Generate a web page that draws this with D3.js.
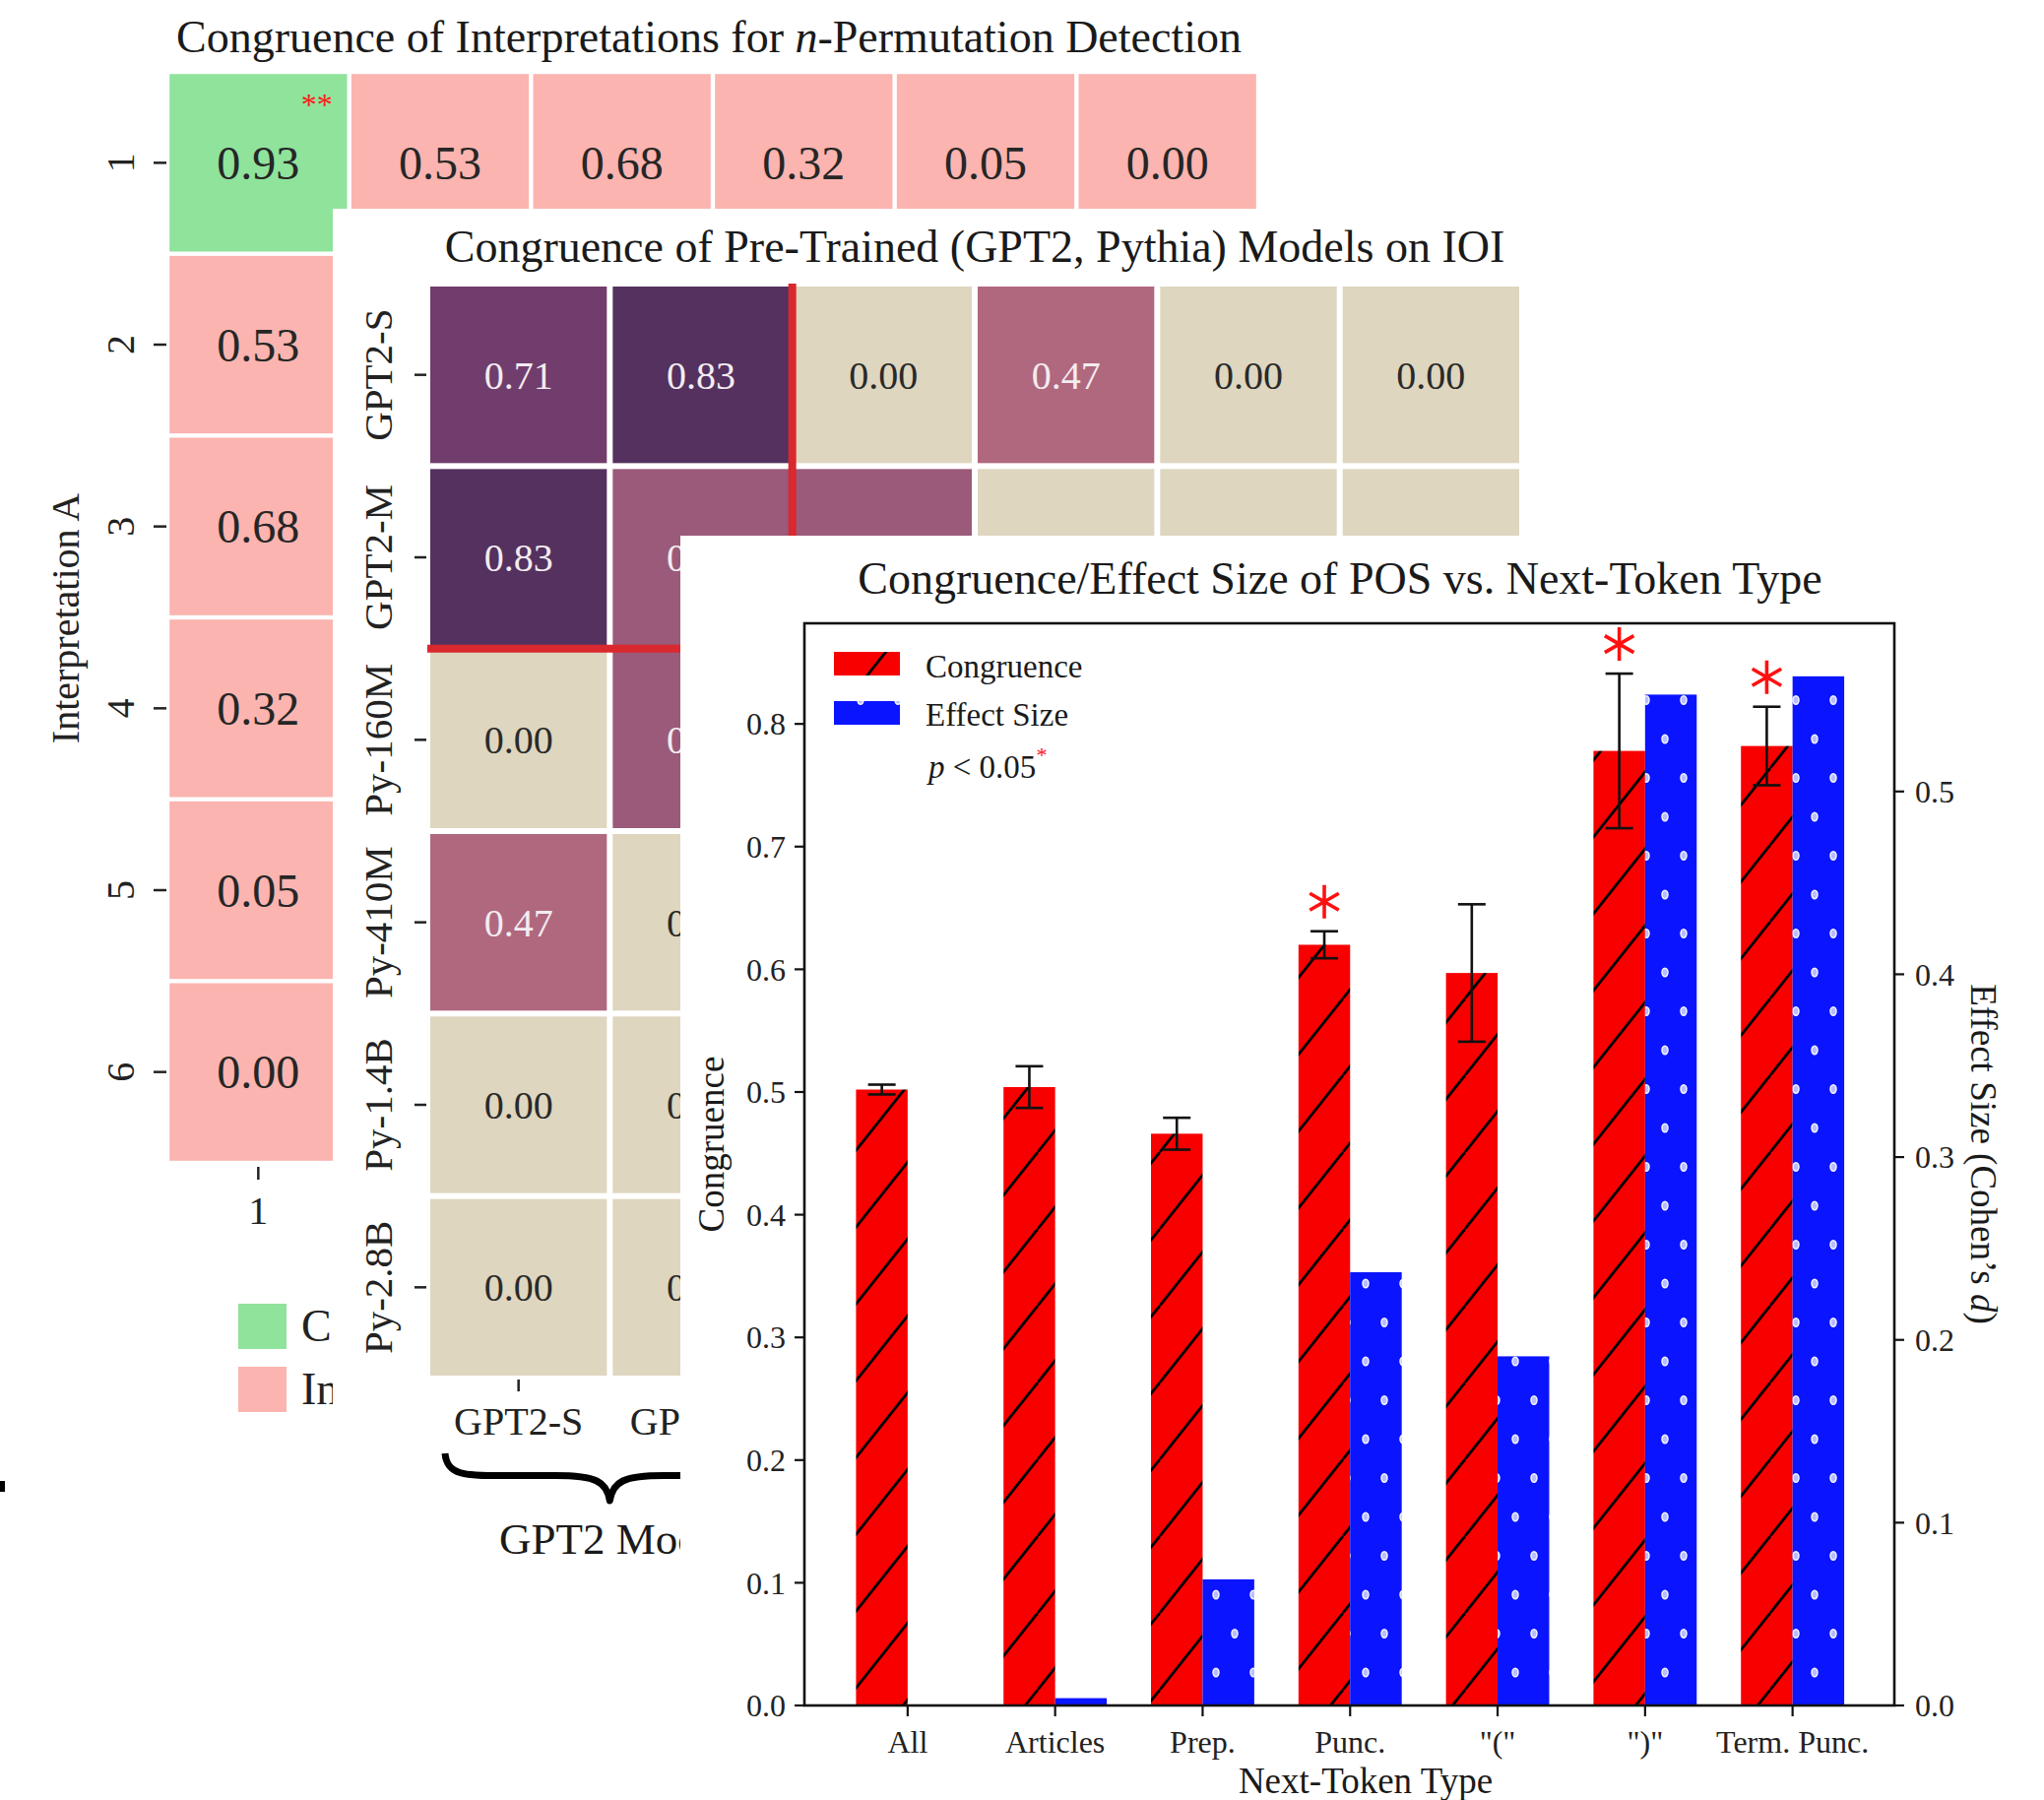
<!DOCTYPE html>
<html><head><meta charset="utf-8">
<script src="https://cdn.jsdelivr.net/npm/d3@7"></script>
<style>
body{margin:0;background:#fff}
svg{display:block}
text{font-family:"Liberation Serif","Times New Roman",serif}
</style>
</head><body>
<svg id="c" width="2076" height="1828"></svg>
<script>
// ---------------- DATA ----------------
// Panel 1: Congruence of Interpretations for n-Permutation Detection (only row 1 / column 1 are visible)
const interpLabels = ["1","2","3","4","5","6"];
const interpRow1 = [0.93, 0.53, 0.68, 0.32, 0.05, 0.00];
const interpCol1 = [0.93, 0.53, 0.68, 0.32, 0.05, 0.00];
const interpRow1Status = ["Congruent","Incongruent","Incongruent","Incongruent","Incongruent","Incongruent"];
const interpCol1Status = ["Congruent","Incongruent","Incongruent","Incongruent","Incongruent","Incongruent"];
const interpRow1Sig = ["**","","","","",""];
const interpLegend = ["Congruent","Incongruent"];

// Panel 2: Congruence of Pre-Trained (GPT2, Pythia) Models on IOI (hidden cells = null)
const modelLabels = ["GPT2-S","GPT2-M","Py-160M","Py-410M","Py-1.4B","Py-2.8B"];
const modelCongruence = [
  [0.71, 0.83, 0.00, 0.47, 0.00, 0.00],
  [0.83, 0.55, 0.55, 0.00, 0.00, 0.00],
  [0.00, 0.55, null, null, null, null],
  [0.47, 0.00, null, null, null, null],
  [0.00, 0.00, null, null, null, null],
  [0.00, 0.00, null, null, null, null]
];
const modelGroups = ["GPT2 Models"];

// Panel 3: Congruence/Effect Size of POS vs. Next-Token Type
const tokenTypes = ["All","Articles","Prep.","Punc.","\"(\"","\")\"","Term. Punc."];
const congruence    = [0.502, 0.504, 0.466, 0.620, 0.597, 0.778, 0.782];
const congruenceErr = [0.004, 0.017, 0.013, 0.011, 0.056, 0.063, 0.032];
const effectSize    = [0.000, 0.004, 0.069, 0.237, 0.191, 0.553, 0.563];
const significant   = [false, false, false, true, false, true, true];
const leftTicks  = [0.0,0.1,0.2,0.3,0.4,0.5,0.6,0.7,0.8];
const rightTicks = [0.0,0.1,0.2,0.3,0.4,0.5];

// ---------------- DRAW ----------------
const W = 2076, H = 1828;
const svg = d3.select("#c");
svg.append("rect").attr("width", W).attr("height", H).attr("fill", "#fff");
const fmt = d3.format(".2f");
const defs = svg.append("defs");

// panel 2 / panel 3 cover these regions
const P2X = 338, P2Y = 212;
const P3X = 691, P3Y = 544;
defs.append("clipPath").attr("id", "clipP1legend").append("rect")
  .attr("x", 0).attr("y", 1300).attr("width", P2X).attr("height", 200);

// ===== Panel 1 =====
const p1 = svg.append("g");
const x1 = d3.scaleBand().domain(interpLabels).range([170, 1278]);
const y1 = d3.scaleBand().domain(interpLabels).range([73, 1181]);
const c1 = d3.scaleOrdinal().domain(interpLegend).range(["#8FE39B", "#FBB4AF"]);
const cells1 = [];
interpLabels.forEach((b, j) => cells1.push({a: "1", b, v: interpRow1[j], s: interpRow1Status[j], sig: interpRow1Sig[j]}));
interpLabels.forEach((a, i) => { if (i > 0) cells1.push({a, b: "1", v: interpCol1[i], s: interpCol1Status[i], sig: ""}); });
const inset1 = 2.2;
p1.selectAll("rect.cell").data(cells1).join("rect").attr("class", "cell")
  .attr("x", d => x1(d.b) + inset1).attr("y", d => y1(d.a) + inset1)
  .attr("width", x1.bandwidth() - 2*inset1).attr("height", y1.bandwidth() - 2*inset1)
  .attr("fill", d => c1(d.s));
p1.selectAll("text.val").data(cells1).join("text").attr("class", "val")
  .attr("x", d => x1(d.b) + x1.bandwidth()/2).attr("y", d => y1(d.a) + y1.bandwidth()/2)
  .attr("dy", "0.35em").attr("text-anchor", "middle").attr("font-size", 48).attr("fill", "#262626")
  .text(d => fmt(d.v));
p1.selectAll("text.sig").data(cells1.filter(d => d.sig)).join("text").attr("class", "sig")
  .attr("x", d => x1(d.b) + x1.bandwidth() - 17).attr("y", d => y1(d.a) + 44)
  .attr("text-anchor", "end").attr("font-size", 32).attr("fill", "#FF1A1A").text(d => d.sig);
// y axis
interpLabels.forEach(l => {
  const yc = y1(l) + y1.bandwidth()/2;
  p1.append("line").attr("x1", 156).attr("x2", 169).attr("y1", yc).attr("y2", yc).attr("stroke", "#222").attr("stroke-width", 2.5);
  p1.append("text").attr("transform", `translate(122,${yc}) rotate(-90)`).attr("dy", "0.35em")
    .attr("text-anchor", "middle").attr("font-size", 40).attr("fill", "#222").text(l);
});
p1.append("text").attr("transform", "translate(66,628) rotate(-90)").attr("dy", "0.35em")
  .attr("text-anchor", "middle").attr("font-size", 40).attr("fill", "#222").text("Interpretation A");
// x axis (only first visible)
{
  const xc = x1("1") + x1.bandwidth()/2;
  p1.append("line").attr("x1", xc).attr("x2", xc).attr("y1", 1185).attr("y2", 1198).attr("stroke", "#222").attr("stroke-width", 2.5);
  p1.append("text").attr("x", xc).attr("y", 1243).attr("text-anchor", "middle").attr("font-size", 40).attr("fill", "#222").text("1");
}
// title
const t1 = p1.append("text").attr("x", 720).attr("y", 53).attr("text-anchor", "middle").attr("font-size", 46).attr("fill", "#1a1a1a");
t1.append("tspan").text("Congruence of Interpretations for ");
t1.append("tspan").attr("font-style", "italic").text("n");
t1.append("tspan").text("-Permutation Detection");
// legend (clipped where panel 2 covers it)
const leg1 = p1.append("g").attr("clip-path", "url(#clipP1legend)");
interpLegend.forEach((l, i) => {
  leg1.append("rect").attr("x", 242).attr("y", 1324 + i*64).attr("width", 49).attr("height", 46).attr("fill", c1(l));
  leg1.append("text").attr("x", 306).attr("y", 1362 + i*64).attr("font-size", 46).attr("fill", "#222").text(l);
});
p1.append("rect").attr("x", 0).attr("y", 1504).attr("width", 5).attr("height", 11).attr("fill", "#000");

// ===== Panel 2 =====
const p2 = svg.append("g");
p2.append("rect").attr("x", P2X).attr("y", P2Y).attr("width", W - P2X).attr("height", H - P2Y).attr("fill", "#fff");
const x2 = d3.scaleBand().domain(modelLabels).range([434, 1546]);
const y2 = d3.scaleBand().domain(modelLabels).range([288, 1400]);
const c2 = d3.scaleLinear().domain([0, 0.47, 0.71, 0.83]).range(["#DED6BF", "#B0687F", "#713D6C", "#54315E"]);
const cells2 = [];
modelLabels.forEach((a, i) => modelLabels.forEach((b, j) => {
  const v = modelCongruence[i][j];
  if (v !== null) cells2.push({a, b, v});
}));
const inset2 = 3;
p2.selectAll("rect.cell").data(cells2).join("rect").attr("class", "cell")
  .attr("x", d => x2(d.b) + inset2).attr("y", d => y2(d.a) + inset2)
  .attr("width", x2.bandwidth() - 2*inset2).attr("height", y2.bandwidth() - 2*inset2)
  .attr("fill", d => c2(d.v));
// value labels, skipping those entirely covered by panel 3
const visibleLabels = cells2.filter(d => {
  const cx = x2(d.b) + x2.bandwidth()/2, cy = y2(d.a) + y2.bandwidth()/2;
  return !(cx - 36 > P3X && cy - 14 > P3Y);
});
p2.selectAll("text.val").data(visibleLabels).join("text").attr("class", "val")
  .attr("x", d => x2(d.b) + x2.bandwidth()/2).attr("y", d => y2(d.a) + y2.bandwidth()/2)
  .attr("dy", "0.35em").attr("text-anchor", "middle").attr("font-size", 40)
  .attr("fill", d => d.v > 0.3 ? "#F3ECF0" : "#2A2A2A").text(d => fmt(d.v));
// red separators of GPT2 block
{
  const xs = x2("Py-160M"), ys = y2("Py-160M");
  p2.append("line").attr("x1", xs).attr("x2", xs).attr("y1", y2("GPT2-S")).attr("y2", ys + 4).attr("stroke", "#D9282E").attr("stroke-width", 8);
  p2.append("line").attr("x1", x2("GPT2-S")).attr("x2", xs + 4).attr("y1", ys).attr("y2", ys).attr("stroke", "#D9282E").attr("stroke-width", 8);
}
modelLabels.forEach(l => {
  const yc = y2(l) + y2.bandwidth()/2;
  p2.append("line").attr("x1", 421).attr("x2", 433).attr("y1", yc).attr("y2", yc).attr("stroke", "#222").attr("stroke-width", 2.5);
  p2.append("text").attr("transform", `translate(384,${yc}) rotate(-90)`).attr("dy", "0.35em")
    .attr("text-anchor", "middle").attr("font-size", 41).attr("fill", "#222").text(l);
  const xc = x2(l) + x2.bandwidth()/2;
  p2.append("line").attr("x1", xc).attr("x2", xc).attr("y1", 1401).attr("y2", 1413).attr("stroke", "#222").attr("stroke-width", 2.5);
  if (xc - 60 < P3X)
    p2.append("text").attr("x", xc).attr("y", 1457).attr("text-anchor", "middle").attr("font-size", 40).attr("fill", "#222").text(l);
});
p2.append("text").attr("x", 990).attr("y", 266).attr("text-anchor", "middle").attr("font-size", 46).attr("fill", "#1a1a1a")
  .text("Congruence of Pre-Trained (GPT2, Pythia) Models on IOI");
// brace under GPT2 models
{
  const bx1 = x2("GPT2-S") + 18, bx2 = x2("GPT2-M") + x2.bandwidth() - 18, xm = (bx1 + bx2)/2;
  const y0 = 1476, h = 48, ym = y0 + h*0.47;
  const path = `M${bx1},${y0} C${bx1+2},${ym} ${bx1+20},${ym} ${bx1+60},${ym} L${xm-55},${ym} C${xm-14},${ym} ${xm-3},${ym+6} ${xm},${y0+h}
    C${xm+3},${ym+6} ${xm+14},${ym} ${xm+55},${ym} L${bx2-60},${ym} C${bx2-20},${ym} ${bx2-2},${ym} ${bx2},${y0}`;
  p2.append("path").attr("d", path).attr("fill", "none").attr("stroke", "#000").attr("stroke-width", 7).attr("stroke-linejoin", "round");
  p2.append("text").attr("x", 507).attr("y", 1578).attr("font-size", 45).attr("fill", "#1a1a1a").text(modelGroups[0]);
}

// ===== Panel 3 =====
const p3 = svg.append("g");
p3.append("rect").attr("x", P3X).attr("y", P3Y).attr("width", W - P3X).attr("height", H - P3Y).attr("fill", "#fff");
const L = 817, R = 1924, T = 633, B = 1732;
const x3 = d3.scaleLinear().domain([-0.7, tokenTypes.length - 1 + 0.69]).range([L, R]);
const yL = d3.scaleLinear().domain([0, 0.882]).range([B, T]);
const yR = d3.scaleLinear().domain([0, 0.592]).range([B, T]);
const bw = 0.35;

// patterns
const hatch = defs.append("pattern").attr("id", "hatch").attr("patternUnits", "userSpaceOnUse")
  .attr("width", 62).attr("height", 78).attr("x", 0).attr("y", 0);
hatch.append("rect").attr("width", 62).attr("height", 78).attr("fill", "#F80000");
[-62, 0, 62].forEach(dx => hatch.append("line").attr("x1", dx).attr("y1", 78).attr("x2", dx + 62).attr("y2", 0)
  .attr("stroke", "#000").attr("stroke-width", 2.8));
const dots = defs.append("pattern").attr("id", "dots").attr("patternUnits", "userSpaceOnUse")
  .attr("width", 38).attr("height", 79).attr("x", 0).attr("y", 0);
dots.append("rect").attr("width", 38).attr("height", 79).attr("fill", "#0A14FF");
[[0,0],[38,0],[0,79],[38,79],[19,39.5]].forEach(([cx, cy]) =>
  dots.append("ellipse").attr("cx", cx).attr("cy", cy).attr("rx", 3).attr("ry", 4.2)
    .attr("fill", "#B8BDFF").attr("stroke", "#F2F3FF").attr("stroke-width", 1.5));

// bars
p3.selectAll("rect.cong").data(tokenTypes).join("rect").attr("class", "cong")
  .attr("x", (d, i) => x3(i - bw)).attr("width", (d, i) => x3(i) - x3(i - bw))
  .attr("y", (d, i) => yL(congruence[i])).attr("height", (d, i) => B - yL(congruence[i]))
  .attr("fill", "url(#hatch)");
p3.selectAll("rect.eff").data(tokenTypes).join("rect").attr("class", "eff")
  .attr("x", (d, i) => x3(i)).attr("width", (d, i) => x3(i + bw) - x3(i))
  .attr("y", (d, i) => yR(effectSize[i])).attr("height", (d, i) => B - yR(effectSize[i]))
  .attr("fill", "url(#dots)");
// error bars
tokenTypes.forEach((d, i) => {
  const xc = x3(i - bw/2), top = yL(congruence[i] + congruenceErr[i]), bot = yL(congruence[i] - congruenceErr[i]);
  p3.append("line").attr("x1", xc).attr("x2", xc).attr("y1", top).attr("y2", bot).attr("stroke", "#111").attr("stroke-width", 2.6);
  [top, bot].forEach(yy => p3.append("line").attr("x1", xc - 14).attr("x2", xc + 14).attr("y1", yy).attr("y2", yy)
    .attr("stroke", "#111").attr("stroke-width", 2.6));
  if (significant[i]) {
    p3.append("path").attr("d", d3.symbol(d3.symbolAsterisk).size(820)())
      .attr("transform", `translate(${xc},${top - 30})`).attr("fill", "none").attr("stroke", "#FF1010").attr("stroke-width", 3.6);
  }
});
// spines
p3.append("rect").attr("x", L).attr("y", T).attr("width", R - L).attr("height", B - T)
  .attr("fill", "none").attr("stroke", "#111").attr("stroke-width", 2.6);
// axes ticks
leftTicks.forEach(t => {
  const yy = yL(t);
  p3.append("line").attr("x1", L - 10).attr("x2", L).attr("y1", yy).attr("y2", yy).attr("stroke", "#111").attr("stroke-width", 2.2);
  p3.append("text").attr("x", L - 19).attr("y", yy).attr("dy", "0.35em").attr("text-anchor", "end")
    .attr("font-size", 32).attr("fill", "#222").text(t.toFixed(1));
});
rightTicks.forEach(t => {
  const yy = yR(t);
  p3.append("line").attr("x1", R).attr("x2", R + 10).attr("y1", yy).attr("y2", yy).attr("stroke", "#111").attr("stroke-width", 2.2);
  p3.append("text").attr("x", R + 21).attr("y", yy).attr("dy", "0.35em").attr("text-anchor", "start")
    .attr("font-size", 32).attr("fill", "#222").text(t.toFixed(1));
});
tokenTypes.forEach((d, i) => {
  const xx = x3(i);
  p3.append("line").attr("x1", xx).attr("x2", xx).attr("y1", B).attr("y2", B + 11).attr("stroke", "#111").attr("stroke-width", 2.2);
  p3.append("text").attr("x", xx).attr("y", 1780).attr("text-anchor", "middle").attr("font-size", 32).attr("fill", "#222").text(d);
});
p3.append("text").attr("x", 1387).attr("y", 1821).attr("text-anchor", "middle").attr("font-size", 37).attr("fill", "#1a1a1a").text("Next-Token Type");
p3.append("text").attr("transform", "translate(722,1162) rotate(-90)").attr("dy", "0.35em").attr("text-anchor", "middle")
  .attr("font-size", 37).attr("fill", "#1a1a1a").text("Congruence");
const rl = p3.append("text").attr("transform", "translate(2015,1172) rotate(90)").attr("dy", "0.35em").attr("text-anchor", "middle")
  .attr("font-size", 37).attr("fill", "#1a1a1a");
rl.append("tspan").text("Effect Size (Cohen\u2019s ");
rl.append("tspan").attr("font-style", "italic").text("d");
rl.append("tspan").text(")");
p3.append("text").attr("x", 1361).attr("y", 603).attr("text-anchor", "middle").attr("font-size", 46).attr("fill", "#1a1a1a")
  .text("Congruence/Effect Size of POS vs. Next-Token Type");
// legend
p3.append("rect").attr("x", 847).attr("y", 662).attr("width", 67).attr("height", 24).attr("fill", "url(#hatch)");
p3.append("rect").attr("x", 847).attr("y", 712).attr("width", 67).attr("height", 24).attr("fill", "url(#dots)");
p3.append("text").attr("x", 940).attr("y", 688).attr("font-size", 33).attr("fill", "#1a1a1a").text("Congruence");
p3.append("text").attr("x", 940).attr("y", 737).attr("font-size", 33).attr("fill", "#1a1a1a").text("Effect Size");
const pt = p3.append("text").attr("x", 943).attr("y", 790).attr("font-size", 33).attr("fill", "#1a1a1a");
pt.append("tspan").attr("font-style", "italic").text("p");
pt.append("tspan").text(" < 0.05");
pt.append("tspan").attr("dy", -16).attr("font-size", 22).attr("fill", "#FF1010").text("*");
</script>
</body></html>
